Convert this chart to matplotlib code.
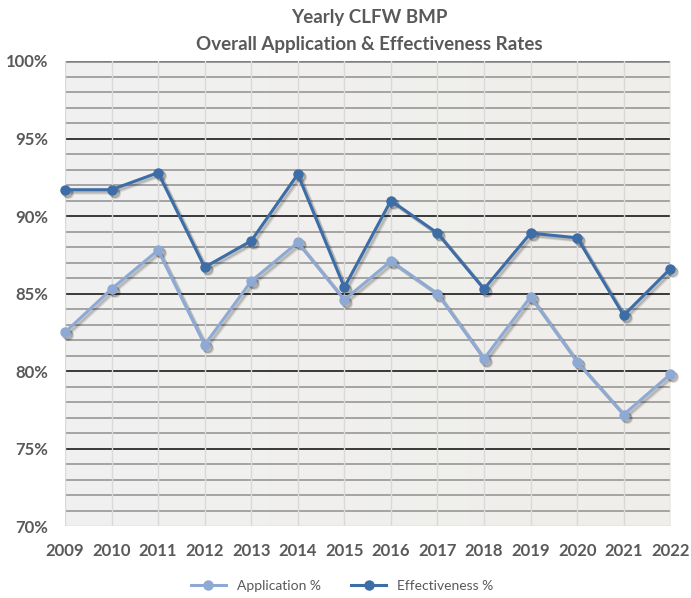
import matplotlib.pyplot as plt
import matplotlib.transforms as mtransforms
import numpy as np
from matplotlib.colors import LinearSegmentedColormap
from matplotlib.ticker import MultipleLocator, FuncFormatter

years = list(range(2009, 2023))
application = [82.5, 85.3, 87.8, 81.7, 85.8, 88.3, 84.6, 87.1, 85.0, 80.8, 84.8, 80.6, 77.2, 79.8]
effectiveness = [91.7, 91.7, 92.8, 86.7, 88.4, 92.7, 85.4, 91.0, 88.9, 85.3, 88.9, 88.6, 83.6, 86.6]

app_color = '#8eaad4'
eff_color = '#3d6da7'
text_color = '#595959'

plt.rcParams['font.family'] = ['Lato', 'DejaVu Sans']

fig = plt.figure(figsize=(6.91, 5.98), dpi=100)
ax = fig.add_axes([0.094, 0.120, 0.876, 0.778])

# gradient background for the plot area
grad = np.linspace(0, 1, 256).reshape(1, -1)
cmap = LinearSegmentedColormap.from_list('bg', ['#f1f1f1', '#efeeea'])
ax.imshow(grad, extent=[2009, 2022, 70, 100], aspect='auto', cmap=cmap, zorder=0)

ax.set_xlim(2009, 2022)
ax.set_ylim(70, 100)

# grid lines
for y in range(71, 100):
    if y % 5 == 0:
        ax.axhline(y, color='#2b2b2b', lw=1.3, zorder=1)
    else:
        ax.axhline(y, color='#a3a3a3', lw=1.4, zorder=1)
ax.axhline(100, color='#7f7f7f', lw=1.8, zorder=1)
ax.axhline(70, color='#c8c8c8', lw=1.0, zorder=1)
for x in years:
    ax.axvline(x, color='#d9d9d9', lw=1.0, zorder=1)

# soft drop shadows
for k, (dx, a) in enumerate([(3, 0.10), (2, 0.15)]):
    tr = mtransforms.offset_copy(ax.transData, fig=fig, x=dx, y=-dx, units='dots')
    for vals in (application, effectiveness):
        ax.plot(years, vals, color='black', alpha=a, lw=2.6, marker='o', ms=7,
                transform=tr, clip_on=False, zorder=2)

ax.plot(years, application, color=app_color, lw=2.2, marker='o', ms=6.5,
        label='Application %', clip_on=False, zorder=3)
ax.plot(years, effectiveness, color=eff_color, lw=2.2, marker='o', ms=6.5,
        label='Effectiveness %', clip_on=False, zorder=4)

ax.set_xticks(years)
ax.yaxis.set_major_locator(MultipleLocator(5))
ax.yaxis.set_major_formatter(FuncFormatter(lambda v, p: f'{v:.0f}%'))
ax.tick_params(length=0, labelsize=12, labelcolor=text_color)
ax.tick_params(axis='x', pad=12)
ax.tick_params(axis='y', pad=12)
for lab in ax.get_xticklabels() + ax.get_yticklabels():
    lab.set_fontweight('bold')
for s in ax.spines.values():
    s.set_visible(False)

fig.text(0.535, 0.970, 'Yearly CLFW BMP', ha='center', va='center',
         fontsize=13.5, fontweight='bold', color=text_color)
fig.text(0.535, 0.925, 'Overall Application & Effectiveness Rates', ha='center', va='center',
         fontsize=13.5, fontweight='bold', color=text_color)

leg = fig.legend(loc='center', bbox_to_anchor=(0.495, 0.02), ncol=2, frameon=False,
                 fontsize=10, handlelength=2.5, columnspacing=2.2)
for t in leg.get_texts():
    t.set_color(text_color)

fig.savefig('out.png', dpi=100)
